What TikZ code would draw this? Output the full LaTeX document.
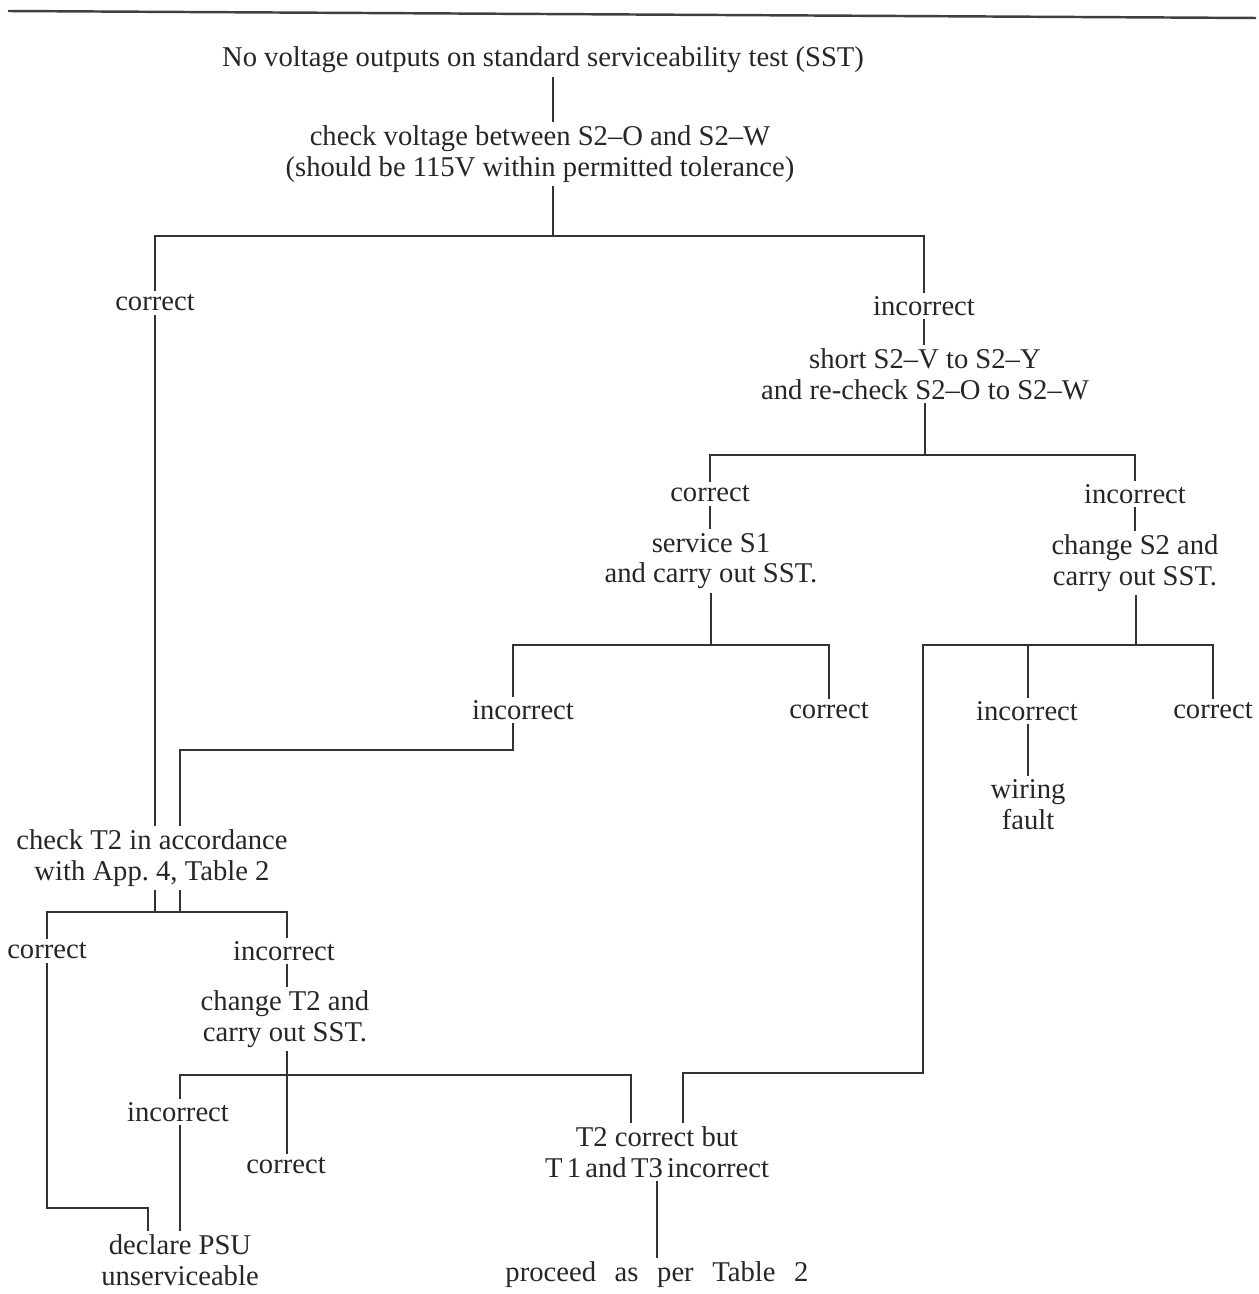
\documentclass[tikz,border=0pt]{standalone}
\usepackage{fontspec}
\setmainfont{Liberation Serif}
\usetikzlibrary{positioning}

\begin{document}
\begin{tikzpicture}[x=0.02cm,y=-0.02cm,draw=black!80]
    \tikzstyle{step text}=[align=center, inner sep=2pt, text=black!85,
        font=\fontsize{16.3}{17.5}\selectfont]
    \tikzstyle{branch}=[line width=0.6pt]
    \useasboundingbox (0,0) rectangle (1258,1294);

    % Rule above the chart
    \draw[line width=1.4pt, black!75] (8,11) -- (1256,18);

    % Draw the test and action nodes
    \node[step text] (root) at (543,60) {No voltage outputs on standard serviceability test (SST)};
    \node[step text] (chk) at (540,154) {check voltage between S2--O and S2--W\\(should be 115V within permitted tolerance)};
    \node[step text] (shrt) at (925,374) {short S2--V to S2--Y\\and re-check S2--O to S2--W};
    \node[step text] (svc) at (711,561) {service S1\\and carry out SST.};
    \node[step text] (chS2) at (1135,563) {change S2 and\\carry out SST.};
    \node[step text] (wire) at (1028,805) {wiring\\fault};
    \node[step text] (chT2) at (152,858) {check T2 in accordance\\with\ App.\ 4,\ Table\ 2};
    \node[step text] (chT2b) at (285,1019) {change T2 and\\carry out SST.};
    \node[step text] (t2ok) at (657,1152) {T2 correct but\\{\spaceskip=0.15em T 1 and T3 incorrect}};
    \node[step text] (psu) at (180,1260) {declare PSU\\unserviceable};
    \node[step text] (proc) at (657,1275) {proceed\hspace{0.4em} as\hspace{0.4em} per\hspace{0.4em} Table\hspace{0.4em} 2};

    % Draw the result nodes
    \foreach \name / \x / \y / \txt in {c-1/155/303/correct, i-1/924/306/incorrect,
        c-2/710/494/correct, i-2/1135/494/incorrect,
        i-3/523/710/incorrect, c-3/829/711/correct,
        i-4/1027/711/incorrect, c-4/1213/711/correct,
        c-5/47/951/correct, i-5/284/951/incorrect,
        i-6/178/1112/incorrect, c-6/286/1166/correct}
        \node[step text] (\name) at (\x,\y) {\txt};

    % Junctions of the branch lines
    \coordinate (J-1) at (553,236);
    \coordinate (J-2) at (925,455);
    \coordinate (J-3) at (711,645);
    \coordinate (J-4) at (1136,645);
    \coordinate (J-5) at (180,912);
    \coordinate (J-6) at (287,1075);
    \coordinate (K-1) at (180,750);
    \coordinate (K-2) at (923,1073);
    \coordinate (K-3) at (148,1208);

    % First check
    \draw[branch] (root.south -| J-1) -- (chk.north -| J-1);
    \draw[branch] (chk.south -| J-1) -- (J-1);
    \draw[branch] (c-1.north) |- (J-1) -| (i-1.north);
    \draw[branch] (c-1.south) -- (chT2.north -| c-1);

    % Right hand branch
    \draw[branch] (i-1.south) -- (shrt.north -| i-1);
    \draw[branch] (shrt.south -| J-2) -- (J-2);
    \draw[branch] (c-2.north) |- (J-2) -| (i-2.north);
    \draw[branch] (c-2.south) -- (svc.north -| c-2);
    \draw[branch] (i-2.south) -- (chS2.north -| i-2);

    % After servicing S1
    \draw[branch] (svc.south -| J-3) -- (J-3);
    \draw[branch] (i-3.north -| 513,0) |- (J-3) -| (c-3.north);
    \draw[branch] (i-3.south -| 513,0) |- (K-1) -- (chT2.north -| K-1);

    % After changing S2
    \draw[branch] (chS2.south -| J-4) -- (J-4);
    \draw[branch] (c-4.north) |- (J-4) -- (J-4 -| K-2) -- (K-2) -| (t2ok.north -| 683,0);
    \draw[branch] (i-4.north -| 1028,0) -- (J-4 -| 1028,0);
    \draw[branch] (i-4.south -| wire) -- (wire.north);

    % Check of T2
    \draw[branch] (chT2.south -| 155,0) -- (J-5 -| 155,0);
    \draw[branch] (chT2.south -| J-5) -- (J-5);
    \draw[branch] (c-5.north) |- (J-5) -| (i-5.north -| J-6);
    \draw[branch] (i-5.south -| J-6) -- (chT2b.north -| J-6);
    \draw[branch] (c-5.south) |- (K-3) -- (psu.north -| K-3);

    % After changing T2
    \draw[branch] (chT2b.south -| J-6) -- (c-6.north -| J-6);
    \draw[branch] (i-6.north -| psu) |- (J-6) -| (t2ok.north -| 631,0);
    \draw[branch] (i-6.south -| psu) -- (psu.north);
    \draw[branch] (t2ok.south) -- (proc.north);
\end{tikzpicture}
\end{document}
